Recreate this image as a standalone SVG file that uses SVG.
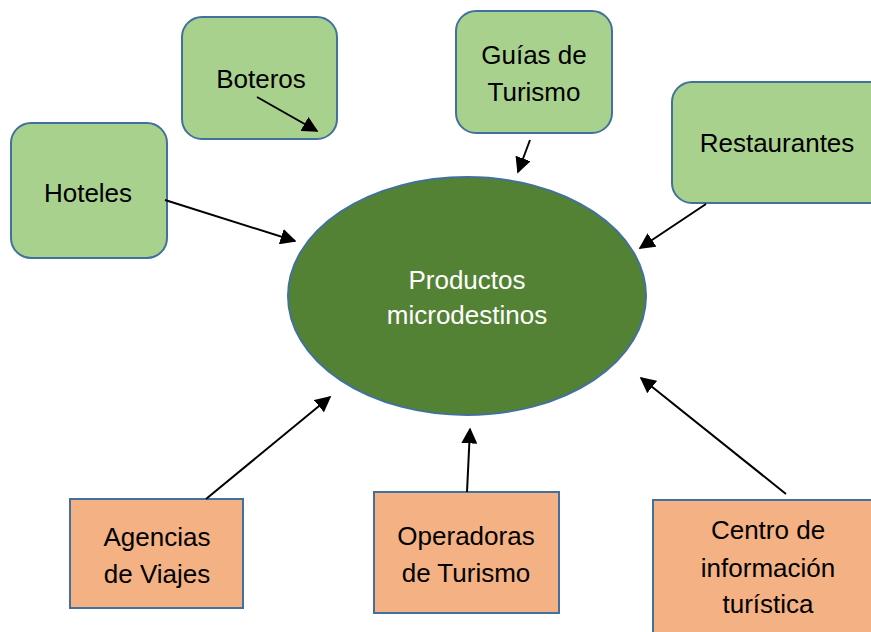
<svg xmlns="http://www.w3.org/2000/svg" width="871" height="632" viewBox="0 0 871 632">
<style>
.g{fill:#A9D18E;stroke:#41719C;stroke-width:2}
.o{fill:#F4B183;stroke:#41719C;stroke-width:2}
.t{font-family:"Liberation Sans",Arial,sans-serif;font-size:26px;fill:#000;text-anchor:middle}
.w{fill:#fff}
.c line{stroke:#000;stroke-width:2;marker-end:url(#ah)}
</style>
<defs>
<marker id="ah" viewBox="0 0 10 10" refX="9" refY="5" markerWidth="8" markerHeight="8" markerUnits="strokeWidth" orient="auto">
<path d="M0,0 L10,5 L0,10 z" fill="#000"/>
</marker>
</defs>
<rect width="871" height="632" fill="#fff"/>
<g id="productos">
<ellipse cx="467" cy="296" rx="179" ry="119" fill="#548235" stroke="#41719C" stroke-width="2"/>
<text class="t w" x="467" y="289">Productos</text>
<text class="t w" x="467" y="324">microdestinos</text>
</g>
<g id="boteros">
<rect class="g" x="182" y="17" width="155" height="122" rx="20"/>
<text class="t" x="261" y="88">Boteros</text>
</g>
<g id="guias">
<rect class="g" x="456" y="11" width="156" height="122" rx="20"/>
<text class="t" x="534" y="64">Guías de</text>
<text class="t" x="534" y="101">Turismo</text>
</g>
<g id="restaurantes">
<rect class="g" x="672" y="82" width="220" height="121" rx="20"/>
<text class="t" x="777" y="152">Restaurantes</text>
</g>
<g id="hoteles">
<rect class="g" x="11" y="123" width="156" height="135" rx="20"/>
<text class="t" x="88" y="202">Hoteles</text>
</g>
<g id="agencias">
<rect class="o" x="70" y="499" width="173" height="109"/>
<text class="t" x="157" y="546">Agencias</text>
<text class="t" x="157" y="583">de Viajes</text>
</g>
<g id="operadoras">
<rect class="o" x="374" y="492" width="185" height="121"/>
<text class="t" x="466" y="545">Operadoras</text>
<text class="t" x="466" y="582">de Turismo</text>
</g>
<g id="centro">
<rect class="o" x="653" y="500" width="240" height="150"/>
<text class="t" x="768" y="539">Centro de</text>
<text class="t" x="768" y="577">información</text>
<text class="t" x="768" y="613">turística</text>
</g>
<g class="c" id="connectors">
<line x1="257" y1="97" x2="317" y2="131"/>
<line x1="530" y1="140" x2="518" y2="172"/>
<line x1="706" y1="204" x2="640" y2="248"/>
<line x1="165" y1="200" x2="295" y2="241"/>
<line x1="206" y1="499" x2="330" y2="397"/>
<line x1="467" y1="492" x2="470" y2="429"/>
<line x1="786" y1="494" x2="641" y2="378"/>
</g>
</svg>
